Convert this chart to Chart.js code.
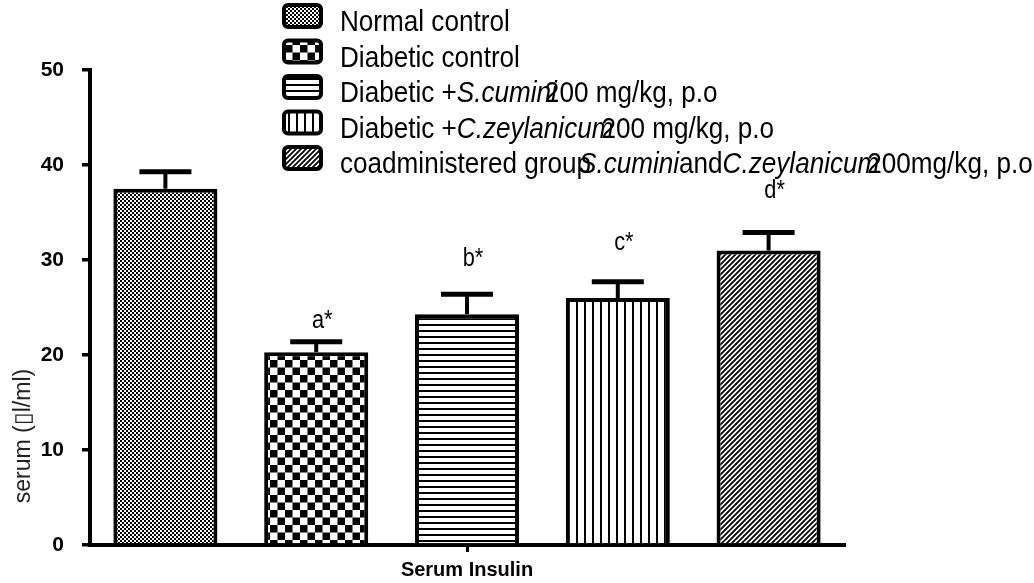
<!DOCTYPE html>
<html><head><meta charset="utf-8">
<script src="https://cdn.jsdelivr.net/npm/chart.js@4.4.0/dist/chart.umd.min.js"></script>
<style>html,body{margin:0;padding:0;background:#fff;}#wrap{width:1034px;height:583px;position:relative;}</style>
</head><body><div id="wrap"><canvas id="c" width="1034" height="583"></canvas></div>
<script>
// ---- data ----
const categories = ['Serum Insulin'];
const legendRuns = [
  [['Normal control', 0]],
  [['Diabetic control', 0]],
  [['Diabetic +', 0], ['S.cumini', 1], ['200 mg/kg, p.o', 0]],
  [['Diabetic +', 0], ['C.zeylanicum', 1], ['200 mg/kg, p.o', 0]],
  [['coadministered group', 0], ['S.cumini', 1], ['and', 0], ['C.zeylanicum', 1], ['200mg/kg, p.o', 0]]
];
const groupNames = legendRuns.map(r => r.map(s => s[0]).join(' '));
const meanValues = [37.5, 20.3, 24.3, 26.0, 31.0];
const semValues = [1.8, 1.1, 2.1, 1.7, 1.9];
const sigLabels = ['', 'a*', 'b*', 'c*', 'd*'];
const sigLabelValues = [null, 23.6, 30.1, 31.8, 37.2];
const yTicks = [0, 10, 20, 30, 40, 50];
const yTitle = 'serum (\u25AFl/ml)';

// ---- patterns ----
const FONT = '"Liberation Sans", Arial, Helvetica, sans-serif';
function makePattern(kind) {
  const c = document.createElement('canvas');
  let w = 4, h = 4;
  if (kind === 'coarse') { w = 15; h = 15; }
  if (kind === 'hlines') { w = 8; h = 6; }
  if (kind === 'vlines') { w = 8; h = 8; }
  if (kind === 'diag') { w = 5; h = 5; }
  c.width = w; c.height = h;
  const g = c.getContext('2d');
  g.fillStyle = '#fff'; g.fillRect(0, 0, w, h);
  g.fillStyle = '#000'; g.strokeStyle = '#000';
  if (kind === 'fine') { g.fillRect(0, 0, 2, 2); g.fillRect(2, 2, 2, 2); }
  if (kind === 'coarse') { g.fillRect(0, 0, 7.5, 7.5); g.fillRect(7.5, 7.5, 7.5, 7.5); }
  if (kind === 'hlines') { g.fillRect(0, 0, w, 2); }
  if (kind === 'vlines') { g.fillRect(0, 0, 2, h); }
  if (kind === 'diag') {
    g.lineWidth = 1.8;
    g.beginPath();
    g.moveTo(-1, h + 1); g.lineTo(w + 1, -1);
    g.moveTo(-1, 1); g.lineTo(1, -1);
    g.moveTo(w - 1, h + 1); g.lineTo(w + 1, h - 1);
    g.stroke();
  }
  return document.getElementById('c').getContext('2d').createPattern(c, 'repeat');
}
const patterns = ['fine', 'coarse', 'hlines', 'vlines', 'diag'].map(makePattern);

// condensed text helper
function drawText(ctx, text, x, y, font, sx, align) {
  ctx.save();
  ctx.font = font;
  const w = ctx.measureText(text).width * sx;
  let x0 = x;
  if (align === 'center') x0 = x - w / 2;
  ctx.translate(x0, y);
  ctx.scale(sx, 1);
  ctx.textAlign = 'left';
  ctx.fillText(text, 0, 0);
  ctx.restore();
  return w;
}

// ---- plugins ----
const errorBars = {
  id: 'errorBars',
  afterDatasetsDraw(chart) {
    const ctx = chart.ctx, ys = chart.scales.y;
    ctx.save();
    ctx.strokeStyle = '#000';
    chart.data.datasets.forEach((ds, i) => {
      const bar = chart.getDatasetMeta(i).data[0];
      const yv = ys.getPixelForValue(meanValues[i]);
      const yt = ys.getPixelForValue(meanValues[i] + semValues[i]);
      const half = bar.width / 4;
      ctx.lineWidth = 4;
      ctx.beginPath(); ctx.moveTo(bar.x, yv); ctx.lineTo(bar.x, yt); ctx.stroke();
      ctx.lineWidth = 5;
      ctx.beginPath(); ctx.moveTo(bar.x - half, yt); ctx.lineTo(bar.x + half, yt); ctx.stroke();
      if (sigLabels[i]) {
        ctx.fillStyle = '#000';
        ctx.textBaseline = 'middle';
        drawText(ctx, sigLabels[i], bar.x + 6, ys.getPixelForValue(sigLabelValues[i]), '25px ' + FONT, 0.87, 'center');
      }
    });
    ctx.restore();
  }
};

const customLegend = {
  id: 'customLegend',
  afterDraw(chart) {
    const ctx = chart.ctx;
    ctx.save();
    legendRuns.forEach((runs, i) => {
      const cy = 16 + i * 35.5;
      // icon
      const ix = 284, iw = 37, ih = 22;
      ctx.fillStyle = patterns[i];
      ctx.beginPath();
      ctx.roundRect(ix, cy - ih / 2, iw, ih, 4);
      ctx.fill();
      ctx.lineWidth = 4; ctx.strokeStyle = '#000';
      ctx.stroke();
      // text
      let x = 340;
      ctx.fillStyle = '#000';
      ctx.textBaseline = 'alphabetic';
      runs.forEach(([t, it], k) => {
        const w = drawText(ctx, t, x, cy + 15, (it ? 'italic ' : '') + '30px ' + FONT, 0.87, 'left');
        x += w;
        const next = runs[k + 1];
        if (next) {
          if (it && /^\d/.test(next[0])) x -= 12;
          else if (!it && next[1] && !t.endsWith('+') && !t.endsWith('and')) x -= 12;
        }
      });
    });
    // y title
    ctx.translate(24, 436);
    ctx.rotate(-Math.PI / 2);
    ctx.fillStyle = '#222';
    ctx.textBaseline = 'middle';
    drawText(ctx, yTitle, 0, 0, '23px ' + FONT, 1, 'center');
    ctx.restore();
  }
};

new Chart(document.getElementById('c'), {
  type: 'bar',
  data: {
    labels: categories,
    datasets: groupNames.map((n, i) => ({
      label: n,
      data: [meanValues[i]],
      backgroundColor: patterns[i],
      borderColor: '#000',
      borderWidth: 4,
      borderSkipped: 'bottom'
    }))
  },
  options: {
    responsive: false,
    animation: false,
    devicePixelRatio: 1,
    layout: { padding: { left: 0, right: 190, top: 70, bottom: 0 } },
    datasets: { bar: { barPercentage: 0.69, categoryPercentage: 1 } },
    plugins: { legend: { display: false }, tooltip: { enabled: false } },
    scales: {
      x: {
        grid: { display: true, drawOnChartArea: false, offset: false, color: '#000', lineWidth: 3, tickLength: 7 },
        border: { color: '#000', width: 4 },
        ticks: { color: '#000', font: { family: FONT, size: 20, weight: 'bold' }, padding: 6 },
        afterFit(s) { s.height = 38; }
      },
      y: {
        min: 0, max: 50,
        afterBuildTicks(s) { s.ticks = yTicks.map(v => ({ value: v })); },
        grid: { drawOnChartArea: false, color: '#000', lineWidth: 3.5, tickLength: 8 },
        border: { color: '#000', width: 4 },
        ticks: { color: '#000', font: { family: FONT, size: 21, weight: 'bold' }, padding: 18 },
        afterFit(s) { s.width = 90; }
      }
    }
  },
  plugins: [errorBars, customLegend]
});
</script>
</body></html>
